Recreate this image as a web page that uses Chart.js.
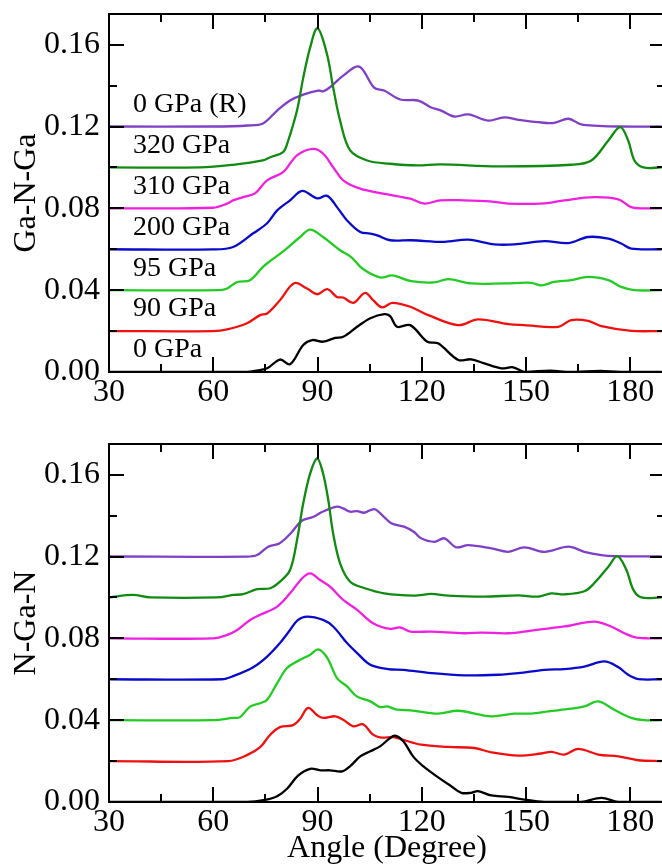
<!DOCTYPE html>
<html>
<head>
<meta charset="utf-8">
<script src="https://cdn.jsdelivr.net/npm/chart.js@4.4.1/dist/chart.umd.min.js"></script>
<style>
  html, body { margin: 0; padding: 0; background: #fff; overflow: hidden; }
  canvas { position: absolute; left: 0; }
  #gng { top: 0; }
  #ngn { top: 434px; }
</style>
</head>
<body>
<canvas id="gng" width="680" height="434"></canvas>
<canvas id="ngn" width="680" height="434"></canvas>
<script>
// curve names, bottom to top, and the vertical offset each one is stacked on
const pressures = ['0 GPa', '90 GPa', '95 GPa', '200 GPa', '310 GPa', '320 GPa', '0 GPa (R)'];
const baselines = [0, 0.02, 0.04, 0.06, 0.08, 0.10, 0.12];
const xTicks = [30, 60, 90, 120, 150, 180];
const xMinor = [45, 75, 105, 135, 165];
const yTicks = [0, 0.04, 0.08, 0.12, 0.16];
const yMinor = [0.02, 0.06, 0.10, 0.14];

// Ga-N-Ga panel (values as plotted, offsets included)
const gngAng0 = [30, 60, 69.7, 72, 75.5, 79.2, 82.1, 85.9, 88.5, 91.6, 95.1, 97.4, 101.4, 105.2, 109.2, 110.9, 112.9, 116.7, 121.6, 124.7, 130.5, 134.2, 138, 142.9, 146.3, 149.5, 157, 162.7, 171.4, 177, 189];
const gngVal0 = [0, 0, 0, 0.0005, 0.0018, 0.0061, 0.0038, 0.0132, 0.0156, 0.0148, 0.0167, 0.0172, 0.0221, 0.0263, 0.0283, 0.0273, 0.0221, 0.0229, 0.0148, 0.014, 0.0059, 0.0062, 0.0042, 0.0018, 0.0023, 0.0001, 0.0007, 0, 0.0005, 0, 0];
const gngAng90 = [30, 59.9, 64, 69.7, 73.5, 75.5, 79.2, 83.3, 87, 89.9, 92.8, 95.6, 97.4, 100.3, 103.7, 106, 108.6, 111.5, 116.7, 121.9, 130.5, 136.2, 144.9, 149.5, 159.3, 163, 167.9, 171.7, 180.3, 189];
const gngVal90 = [0.02, 0.02, 0.0208, 0.0238, 0.0278, 0.0286, 0.0351, 0.0434, 0.0408, 0.038, 0.0405, 0.0367, 0.0364, 0.0338, 0.0387, 0.0351, 0.0316, 0.0338, 0.0319, 0.0278, 0.0229, 0.0257, 0.0234, 0.0229, 0.0221, 0.0254, 0.025, 0.0224, 0.0201, 0.02];
const gngAng95 = [30, 62, 64, 66.9, 70.6, 74.3, 76.4, 80.5, 85, 87.9, 91.6, 96.5, 99.7, 102.8, 108, 111.5, 117, 123.6, 127.6, 134.2, 143.7, 151.5, 154.4, 158.1, 163, 167.9, 173.7, 177.4, 181.2, 189];
const gngVal95 = [0.04, 0.04, 0.0408, 0.044, 0.0449, 0.0514, 0.0543, 0.0595, 0.066, 0.0696, 0.066, 0.0595, 0.0562, 0.0507, 0.0462, 0.0472, 0.0444, 0.0438, 0.0454, 0.0433, 0.0433, 0.0436, 0.0423, 0.044, 0.0449, 0.0465, 0.0449, 0.0416, 0.04, 0.04];
const gngAng200 = [30, 59.9, 65.7, 71.5, 75.5, 78.4, 82.1, 85.6, 89.9, 92.8, 95.6, 98.5, 102.3, 105.2, 107.2, 110.9, 117, 126.5, 133.4, 140.9, 146.6, 155.3, 162.2, 167.9, 173.7, 177.4, 180.3, 189];
const gngVal200 = [0.06, 0.0599, 0.0611, 0.0678, 0.0727, 0.079, 0.0839, 0.0885, 0.0849, 0.0861, 0.0806, 0.0741, 0.0684, 0.0677, 0.0668, 0.0644, 0.0644, 0.0636, 0.0647, 0.0624, 0.0624, 0.064, 0.063, 0.066, 0.0652, 0.0628, 0.0603, 0.06];
const gngAng310 = [30, 59.9, 64, 65.7, 68.6, 72, 75.5, 80.1, 84.1, 88.7, 91.6, 94.5, 97.4, 102.3, 108.9, 116.7, 120.7, 125.3, 132.2, 139.7, 144.9, 155.3, 161, 169.6, 176.6, 180.3, 184, 189];
const gngVal310 = [0.08, 0.0803, 0.0823, 0.0839, 0.0855, 0.0873, 0.0937, 0.0977, 0.1059, 0.1091, 0.1068, 0.1001, 0.0937, 0.0896, 0.0872, 0.0847, 0.0823, 0.0839, 0.0839, 0.0834, 0.0823, 0.0824, 0.0839, 0.0855, 0.0844, 0.0806, 0.08, 0.08];
const gngAng320 = [30, 56.2, 65.7, 74.3, 76.4, 80.1, 81.3, 84.1, 85.9, 87.9, 90, 92.7, 94.5, 96.5, 99.4, 104.3, 110.9, 118.7, 125.3, 142, 163, 168.8, 173.7, 177.1, 179.4, 181.2, 183.8, 189];
const gngVal320 = [0.1, 0.1, 0.1013, 0.1034, 0.105, 0.1075, 0.1117, 0.1278, 0.1439, 0.1587, 0.1681, 0.1556, 0.1392, 0.1229, 0.1083, 0.1034, 0.1018, 0.101, 0.1015, 0.1005, 0.1013, 0.1034, 0.1132, 0.1197, 0.1132, 0.1034, 0.1, 0.1];
const gngAngR = [30, 60, 70, 74.3, 78.4, 82.1, 85.9, 90.2, 91.6, 93.6, 97.4, 102, 106.3, 109.2, 113.8, 119, 122.7, 125.6, 129.3, 133.4, 139.1, 143.7, 147.8, 153.5, 158.1, 162.2, 165.9, 170.8, 176.6, 189];
const gngValR = [0.12, 0.12, 0.1205, 0.1215, 0.1278, 0.1327, 0.1356, 0.1376, 0.1372, 0.1392, 0.1449, 0.1493, 0.139, 0.1376, 0.1332, 0.1327, 0.1293, 0.1278, 0.1249, 0.1259, 0.1229, 0.1245, 0.1233, 0.1221, 0.1218, 0.1238, 0.121, 0.1203, 0.12, 0.12];

// N-Ga-N panel
const ngnAng0 = [30, 69.7, 74.9, 78.4, 81.3, 84.4, 87.9, 90.8, 93.6, 97.1, 99.4, 102.3, 105.2, 108, 110.9, 112.3, 114.7, 117.5, 120.4, 123.6, 128.5, 131.4, 134.2, 136.2, 140, 144.9, 149.5, 155.3, 165.9, 171.7, 176.6, 189];
const ngnVal0 = [0, 0, 0.001, 0.0028, 0.0066, 0.0129, 0.0162, 0.0155, 0.0155, 0.015, 0.0175, 0.0223, 0.0248, 0.0272, 0.0313, 0.0324, 0.0297, 0.0223, 0.0175, 0.0134, 0.0077, 0.0045, 0.0045, 0.0053, 0.0032, 0.0025, 0.0012, 0, 0, 0.002, 0, 0];
const ngnAng90 = [30, 64.3, 69.7, 73.5, 76.4, 79.2, 83, 85, 87.3, 89.9, 91.6, 95.1, 97.4, 100.3, 103.1, 106, 108.3, 111.8, 114.4, 119.8, 127.6, 135.1, 140, 147.8, 154.4, 157.3, 161, 165, 170.8, 176.6, 182.3, 189];
const ngnVal90 = [0.02, 0.02, 0.0229, 0.0268, 0.0329, 0.0366, 0.0376, 0.0407, 0.046, 0.0424, 0.0411, 0.0419, 0.0402, 0.037, 0.038, 0.0329, 0.0315, 0.0317, 0.0305, 0.028, 0.0269, 0.0264, 0.0243, 0.0227, 0.0237, 0.0245, 0.0232, 0.026, 0.0232, 0.0223, 0.0204, 0.02];
const ngnAng95 = [30, 59.9, 65.7, 67.7, 70.6, 73.5, 75.5, 78.4, 81.3, 85, 87.9, 90.2, 92.8, 95.6, 98.5, 101.4, 105.2, 108, 110, 112.9, 116.7, 124.7, 130.5, 140, 146.6, 151.5, 156.4, 163, 166.8, 170.8, 175.4, 180.3, 184, 189];
const ngnVal95 = [0.04, 0.04, 0.0411, 0.0415, 0.0466, 0.0483, 0.05, 0.0581, 0.0656, 0.0695, 0.072, 0.0746, 0.0705, 0.0606, 0.0565, 0.0515, 0.0492, 0.0464, 0.0467, 0.0451, 0.0448, 0.0432, 0.0446, 0.0419, 0.0432, 0.0432, 0.0443, 0.0456, 0.0467, 0.0492, 0.0451, 0.0411, 0.04, 0.04];
const ngnAng200 = [30, 62.5, 65.7, 71.5, 75.5, 79.2, 82.1, 84.4, 87, 91.6, 94.5, 98.5, 101.4, 105.2, 110.3, 114.7, 122.7, 132.2, 142, 147.8, 155.3, 161, 166.8, 172.5, 176.5, 179.4, 182.3, 189];
const ngnVal200 = [0.06, 0.06, 0.0615, 0.0659, 0.0711, 0.0777, 0.0841, 0.089, 0.0906, 0.089, 0.0858, 0.0777, 0.0728, 0.0671, 0.065, 0.0646, 0.063, 0.0619, 0.0622, 0.063, 0.0646, 0.065, 0.0662, 0.0687, 0.066, 0.0622, 0.0601, 0.06];
const ngnAng310 = [30, 59.9, 64, 66.9, 70.6, 73.5, 78.4, 82.1, 85.6, 87.9, 90.8, 93.6, 97.4, 101.4, 106, 110.9, 113.8, 116.7, 122.7, 132.2, 137.1, 144.9, 151.5, 161, 169.6, 174.5, 178.3, 181.2, 185.2, 189];
const ngnVal310 = [0.08, 0.08, 0.0817, 0.0841, 0.089, 0.0915, 0.0955, 0.102, 0.1094, 0.1118, 0.1085, 0.1053, 0.0988, 0.0939, 0.0874, 0.0846, 0.0853, 0.0833, 0.0833, 0.0825, 0.0828, 0.0825, 0.0838, 0.0858, 0.0882, 0.0858, 0.0825, 0.0806, 0.08, 0.08];
const ngnAng320 = [30, 36.9, 41.8, 61.1, 65.7, 68.6, 72.6, 76.4, 79.2, 82.1, 84.1, 85.9, 87.9, 89.9, 91.6, 93.1, 94.5, 96.5, 99.4, 103.4, 109.2, 117.8, 122.7, 127.6, 138, 147.8, 153.5, 157.3, 161, 166.8, 169.6, 173.7, 176.3, 178.9, 180.9, 183.2, 189];
const ngnVal320 = [0.1, 0.1012, 0.1, 0.1, 0.1012, 0.1016, 0.104, 0.1045, 0.1077, 0.1134, 0.128, 0.146, 0.1606, 0.1679, 0.1606, 0.1476, 0.1313, 0.1167, 0.1077, 0.1046, 0.102, 0.1009, 0.1017, 0.1009, 0.1004, 0.101, 0.1004, 0.102, 0.1015, 0.103, 0.1069, 0.115, 0.1202, 0.1134, 0.1037, 0.1, 0.1];
const ngnAngR = [30, 69.7, 72.6, 75.8, 79, 82.1, 85.6, 88.7, 91.6, 95.6, 97.4, 99.4, 101.4, 103.4, 106.3, 108, 111.2, 114.9, 117.8, 119.8, 123.6, 126.5, 129.9, 133.4, 140, 144.9, 149.5, 155.3, 162.2, 166.8, 171.7, 175.4, 189];
const ngnValR = [0.12, 0.1199, 0.1207, 0.1248, 0.1264, 0.131, 0.1376, 0.1393, 0.142, 0.1444, 0.1435, 0.1419, 0.1422, 0.1414, 0.1432, 0.1412, 0.1363, 0.1346, 0.132, 0.1289, 0.1272, 0.1289, 0.1245, 0.1256, 0.124, 0.1223, 0.1245, 0.1223, 0.1248, 0.1223, 0.1207, 0.1202, 0.12];

const lineColors = ['#000000', '#f01010', '#22cc22', '#0a0acc', '#f020e0', '#108a10', '#7f3fc7'];
const serif = '"Liberation Serif", "DejaVu Serif", serif';

Chart.defaults.font.family = serif;
Chart.defaults.color = '#000';

// xmgrace style frame: box plus inward ticks on all four sides
const frameTicks = {
  id: 'frameTicks',
  afterDatasetsDraw(chart) {
    const {ctx, chartArea: a, scales: {x, y}} = chart;
    ctx.save();
    ctx.strokeStyle = '#000';
    ctx.lineWidth = 2;
    ctx.strokeRect(a.left, a.top, a.right - a.left, a.bottom - a.top);
    ctx.beginPath();
    const xt = (v, len) => {
      const px = Math.round(x.getPixelForValue(v));
      ctx.moveTo(px, a.bottom); ctx.lineTo(px, a.bottom - len);
      ctx.moveTo(px, a.top); ctx.lineTo(px, a.top + len);
    };
    const yt = (v, len) => {
      const py = Math.round(y.getPixelForValue(v));
      ctx.moveTo(a.left, py); ctx.lineTo(a.left + len, py);
      ctx.moveTo(a.right, py); ctx.lineTo(a.right - len, py);
    };
    xTicks.forEach((v) => xt(v, 15));
    xMinor.forEach((v) => xt(v, 8));
    yTicks.forEach((v) => yt(v, 15));
    yMinor.forEach((v) => yt(v, 8));
    ctx.stroke();
    ctx.restore();
  },
};

const pressureTags = {
  id: 'pressureTags',
  afterDatasetsDraw(chart) {
    const {ctx, chartArea: a, scales: {y}} = chart;
    ctx.save();
    ctx.font = '28px ' + serif;
    ctx.fillStyle = '#000';
    ctx.textAlign = 'left';
    ctx.textBaseline = 'middle';
    pressures.forEach((p, i) => {
      ctx.fillText(p, a.left + 24, y.getPixelForValue(baselines[i]) - 22);
    });
    ctx.restore();
  },
};

function makeChart(id, angles, values, yTitle, xTitle, topPad, xAxisHeight, extra) {
  const datasets = angles.map((ang, i) => ({
    label: pressures[i],
    data: ang.map((a, k) => ({x: a, y: values[i][k]})),
    borderColor: lineColors[i],
    borderWidth: 2.3,
    pointRadius: 0,
    tension: 0.35,
    fill: false,
  }));
  return new Chart(document.getElementById(id), {
    type: 'line',
    data: {datasets},
    options: {
      responsive: false,
      animation: false,
      devicePixelRatio: 1,
      layout: {padding: {top: topPad, right: 15, left: 0, bottom: 0}},
      plugins: {legend: {display: false}, tooltip: {enabled: false}},
      scales: {
        x: {
          type: 'linear', min: 30, max: 190,
          afterBuildTicks: (s) => { s.ticks = xTicks.map((v) => ({value: v})); },
          afterFit: (s) => {
            s.height = xAxisHeight;
            s.paddingLeft = 0; s.paddingRight = 0;
          },
          grid: {display: false, drawTicks: false},
          border: {display: false},
          ticks: {padding: 1, font: {size: 32}, maxRotation: 0, autoSkip: false},
          title: {display: !!xTitle, text: xTitle, font: {size: 32}, padding: 0},
        },
        y: {
          type: 'linear', min: 0, max: 0.175,
          afterBuildTicks: (s) => { s.ticks = yTicks.map((v) => ({value: v})); },
          afterFit: (s) => {
            s.width = 109;
            s.paddingTop = 0; s.paddingBottom = 0;
          },
          grid: {display: false, drawTicks: false},
          border: {display: false},
          ticks: {padding: 9, font: {size: 32}, callback: (v) => v.toFixed(2)},
          title: {display: true, text: yTitle, font: {size: 32}, padding: {top: 7, bottom: 0}},
        },
      },
    },
    plugins: [frameTicks].concat(extra),
  });
}

makeChart('gng',
    [gngAng0, gngAng90, gngAng95, gngAng200, gngAng310, gngAng320, gngAngR],
    [gngVal0, gngVal90, gngVal95, gngVal200, gngVal310, gngVal320, gngValR],
    'Ga-N-Ga', '', 14, 62, [pressureTags]);
makeChart('ngn',
    [ngnAng0, ngnAng90, ngnAng95, ngnAng200, ngnAng310, ngnAng320, ngnAngR],
    [ngnVal0, ngnVal90, ngnVal95, ngnVal200, ngnVal310, ngnVal320, ngnValR],
    'N-Ga-N', 'Angle (Degree)', 10, 66, []);
</script>
</body>
</html>
